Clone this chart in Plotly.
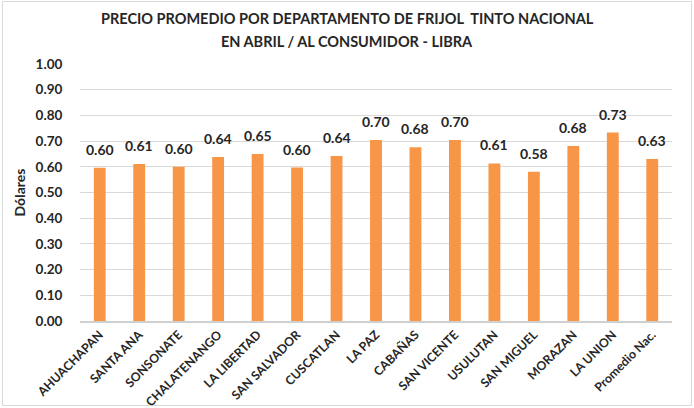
import plotly.graph_objects as go

categories = ["AHUACHAPAN", "SANTA ANA", "SONSONATE", "CHALATENANGO", "LA LIBERTAD",
              "SAN SALVADOR", "CUSCATLAN", "LA PAZ", "CABAÑAS", "SAN VICENTE",
              "USULUTAN", "SAN MIGUEL", "MORAZAN", "LA UNION", "Promedio Nac."]
values = [0.596, 0.611, 0.600, 0.638, 0.650, 0.597, 0.642, 0.704, 0.676, 0.704,
          0.613, 0.581, 0.681, 0.733, 0.630]
y_ticks = [0.0, 0.1, 0.2, 0.3, 0.4, 0.5, 0.6, 0.7, 0.8, 0.9, 1.0]
title_lines = ["PRECIO PROMEDIO POR DEPARTAMENTO DE FRIJOL  TINTO NACIONAL",
               "EN ABRIL / AL CONSUMIDOR - LIBRA"]

W, H = 694, 408
ML, MR, MT, MB = 80, 22, 64, 87
FONT = "Lato, 'Open Sans', sans-serif"
TXT = "#262626"

fig = go.Figure(go.Bar(
    x=categories, y=values,
    marker=dict(color="#F79646", line=dict(width=0)),
    hovertemplate="%{x}: %{y:.2f}<extra></extra>",
))

pw = W - ML - MR
ph = H - MT - MB
def px(x):
    return (x - ML) / pw
def py(y):
    return (H - MB - y) / ph

annotations = [
    dict(text=title_lines[0], xref="paper", yref="paper", x=px(347), y=py(19),
         xanchor="center", yanchor="middle", showarrow=False,
         font=dict(family=FONT, size=14.5, color=TXT, weight=700)),
    dict(text=title_lines[1], xref="paper", yref="paper", x=px(347), y=py(41),
         xanchor="center", yanchor="middle", showarrow=False,
         font=dict(family=FONT, size=14.5, color=TXT, weight=700)),
]
for c, v in zip(categories, values):
    annotations.append(dict(
        text=f"{v:.2f}", x=c, y=v, xref="x", yref="y",
        xanchor="center", yanchor="bottom", yshift=8, showarrow=False,
        font=dict(family=FONT, size=14, color=TXT, weight=700)))

fig.update_layout(
    width=W, height=H,
    margin=dict(l=ML, r=MR, t=MT, b=MB),
    paper_bgcolor="white", plot_bgcolor="white",
    bargap=0.7,
    showlegend=False,
    font=dict(family=FONT, color=TXT),
    annotations=annotations,
    xaxis=dict(
        tickangle=-45, tickfont=dict(family=FONT, size=12.3, color=TXT, weight=700),
        showline=True, linecolor="#d0d0d0", linewidth=1.5,
        showgrid=False, ticks="", automargin=False,
    ),
    yaxis=dict(
        range=[0, 1.0], tickvals=y_ticks, tickformat=".2f",
        tickfont=dict(family=FONT, size=13.5, color=TXT, weight=700),
        showgrid=True, gridcolor="#d9d9d9", gridwidth=1,
        zeroline=False, showline=False, ticks="outside", ticklen=14,
        tickcolor="rgba(0,0,0,0)", automargin=False,
        title=dict(text="Dólares", font=dict(family=FONT, size=14, color=TXT, weight=700), standoff=6),
    ),
    shapes=[dict(type="rect", xref="paper", yref="paper",
                 x0=px(2.5), x1=px(691.5), y0=py(405.5), y1=py(1.5),
                 line=dict(color="#d9d9d9", width=1), fillcolor="rgba(0,0,0,0)", layer="below")],
)

fig.write_html("out.html",
               config={"displayModeBar": False},
               post_script="document.body.style.margin='0';document.body.style.overflow='hidden';")
